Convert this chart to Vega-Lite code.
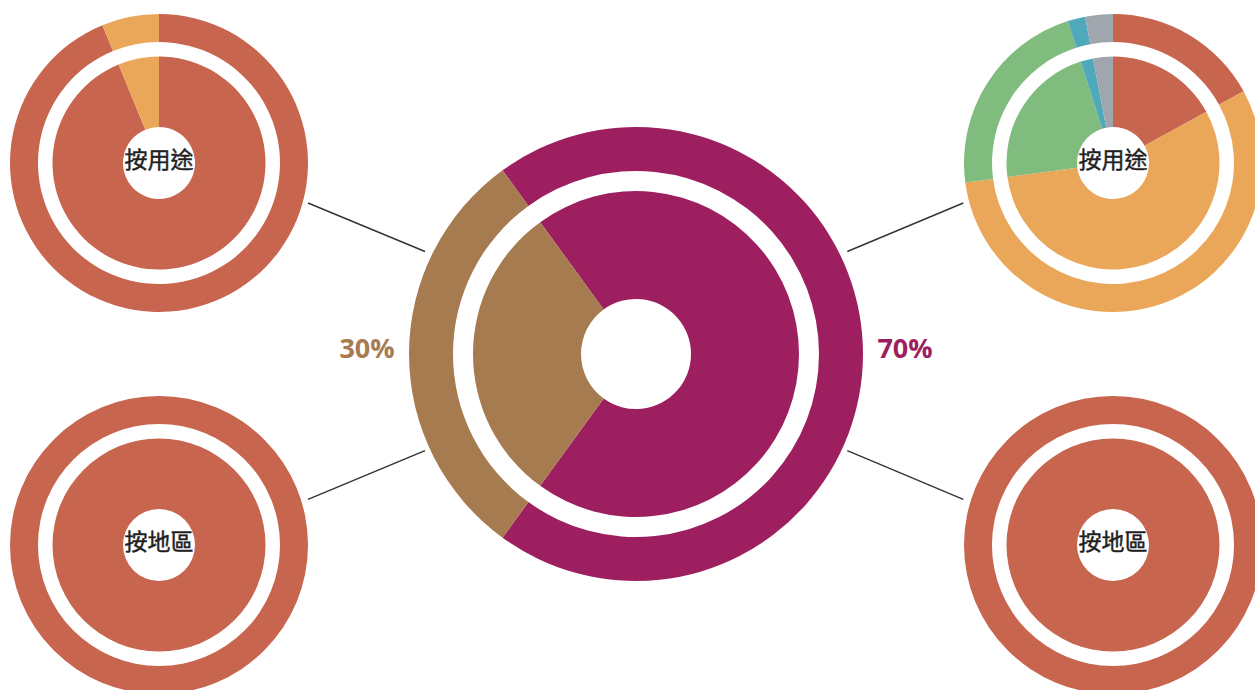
{
  "$schema": "https://vega.github.io/schema/vega-lite/v6.json",
  "width": 1255,
  "height": 690,
  "padding": 0,
  "autosize": {"type": "none"},
  "background": "white",
  "config": {"view": {"stroke": null}},
  "datasets": {
    "shares": [
      {"branch": "總體", "dim": "全部", "cat": "70%部分", "value": 0.7},
      {"branch": "總體", "dim": "全部", "cat": "30%部分", "value": 0.3},
      {"branch": "30%部分", "dim": "按用途", "cat": "用途甲", "value": 0.938},
      {"branch": "30%部分", "dim": "按用途", "cat": "用途乙", "value": 0.062},
      {"branch": "30%部分", "dim": "按地區", "cat": "地區甲", "value": 1.0},
      {"branch": "70%部分", "dim": "按用途", "cat": "用途甲", "value": 0.170},
      {"branch": "70%部分", "dim": "按用途", "cat": "用途乙", "value": 0.559},
      {"branch": "70%部分", "dim": "按用途", "cat": "用途丙", "value": 0.222},
      {"branch": "70%部分", "dim": "按用途", "cat": "用途丁", "value": 0.019},
      {"branch": "70%部分", "dim": "按用途", "cat": "用途戊", "value": 0.030},
      {"branch": "70%部分", "dim": "按地區", "cat": "地區甲", "value": 1.0}
    ],
    "links": [
      {"branch": "30%部分", "dim": "按用途", "to_branch": "總體", "to_dim": "全部"},
      {"branch": "30%部分", "dim": "按地區", "to_branch": "總體", "to_dim": "全部"},
      {"branch": "70%部分", "dim": "按用途", "to_branch": "總體", "to_dim": "全部"},
      {"branch": "70%部分", "dim": "按地區", "to_branch": "總體", "to_dim": "全部"}
    ]
  },
  "resolve": {"scale": {"theta": "independent"}},
  "layer": [
    {
      "data": {"name": "links"},
      "transform": [{"filter": "datum.branch === '30%部分' && datum.dim === '按用途'"}],
      "mark": {"type": "rule", "stroke": "#333333", "strokeWidth": 1.4, "xOffset": 149, "yOffset": 40, "x2Offset": -211, "y2Offset": -102.5},
      "encoding": {
        "x": {"field": "branch", "type": "nominal", "scale": {"type": "point", "domain": ["30%部分", "總體", "70%部分"], "range": [159, 1113], "padding": 0}, "axis": null},
        "x2": {"field": "to_branch"},
        "y": {"field": "dim", "type": "nominal", "scale": {"type": "point", "domain": ["按用途", "全部", "按地區"], "range": [163, 545], "padding": 0}, "axis": null},
        "y2": {"field": "to_dim"}
      }
    },
    {
      "data": {"name": "links"},
      "transform": [{"filter": "datum.branch === '30%部分' && datum.dim === '按地區'"}],
      "mark": {"type": "rule", "stroke": "#333333", "strokeWidth": 1.4, "xOffset": 149, "yOffset": -45.7, "x2Offset": -211, "y2Offset": 96.7},
      "encoding": {
        "x": {"field": "branch", "type": "nominal", "axis": null},
        "x2": {"field": "to_branch"},
        "y": {"field": "dim", "type": "nominal", "axis": null},
        "y2": {"field": "to_dim"}
      }
    },
    {
      "data": {"name": "links"},
      "transform": [{"filter": "datum.branch === '70%部分' && datum.dim === '按用途'"}],
      "mark": {"type": "rule", "stroke": "#333333", "strokeWidth": 1.4, "xOffset": -149.7, "yOffset": 40, "x2Offset": 211.3, "y2Offset": -102.5},
      "encoding": {
        "x": {"field": "branch", "type": "nominal", "axis": null},
        "x2": {"field": "to_branch"},
        "y": {"field": "dim", "type": "nominal", "axis": null},
        "y2": {"field": "to_dim"}
      }
    },
    {
      "data": {"name": "links"},
      "transform": [{"filter": "datum.branch === '70%部分' && datum.dim === '按地區'"}],
      "mark": {"type": "rule", "stroke": "#333333", "strokeWidth": 1.4, "xOffset": -149.7, "yOffset": -45.7, "x2Offset": 211.3, "y2Offset": 96.7},
      "encoding": {
        "x": {"field": "branch", "type": "nominal", "axis": null},
        "x2": {"field": "to_branch"},
        "y": {"field": "dim", "type": "nominal", "axis": null},
        "y2": {"field": "to_dim"}
      }
    },
    {
      "data": {"name": "shares"},
      "transform": [
        {"filter": "datum.branch === '總體'"},
        {"stack": "value", "groupby": ["branch", "dim"], "as": ["v0", "v1"]}
      ],
      "mark": {"type": "arc", "radius": 227, "radius2": 183},
      "encoding": {
        "x": {"field": "branch", "type": "nominal", "axis": null},
        "y": {"field": "dim", "type": "nominal", "axis": null},
        "theta": {"field": "v0", "type": "quantitative", "stack": null, "scale": {"domain": [0, 1], "range": [-0.6283, 5.6549]}},
        "theta2": {"field": "v1"},
        "color": {"field": "cat", "type": "nominal", "legend": null,
          "scale": {"domain": ["70%部分", "30%部分", "用途甲", "用途乙", "用途丙", "用途丁", "用途戊", "地區甲"],
                    "range": ["#9E1F60", "#A67B50", "#C8654E", "#EAA75A", "#7FBC7E", "#4FA9BA", "#9FA6AD", "#C8654E"]}}
      }
    },
    {
      "data": {"name": "shares"},
      "transform": [
        {"filter": "datum.branch === '總體'"},
        {"stack": "value", "groupby": ["branch", "dim"], "as": ["v0", "v1"]}
      ],
      "mark": {"type": "arc", "radius": 163, "radius2": 55},
      "encoding": {
        "x": {"field": "branch", "type": "nominal", "axis": null},
        "y": {"field": "dim", "type": "nominal", "axis": null},
        "theta": {"field": "v0", "type": "quantitative", "stack": null, "scale": {"domain": [0, 1], "range": [-0.6283, 5.6549]}},
        "theta2": {"field": "v1"},
        "color": {"field": "cat", "type": "nominal", "legend": null}
      }
    },
    {
      "data": {"name": "shares"},
      "transform": [
        {"filter": "datum.branch !== '總體'"},
        {"stack": "value", "groupby": ["branch", "dim"], "as": ["v0", "v1"]}
      ],
      "mark": {"type": "arc", "radius": 149, "radius2": 121},
      "encoding": {
        "x": {"field": "branch", "type": "nominal", "axis": null},
        "y": {"field": "dim", "type": "nominal", "axis": null},
        "theta": {"field": "v0", "type": "quantitative", "stack": null, "scale": {"domain": [0, 1], "range": [0, 6.28319]}},
        "theta2": {"field": "v1"},
        "color": {"field": "cat", "type": "nominal", "legend": null}
      }
    },
    {
      "data": {"name": "shares"},
      "transform": [
        {"filter": "datum.branch !== '總體'"},
        {"stack": "value", "groupby": ["branch", "dim"], "as": ["v0", "v1"]}
      ],
      "mark": {"type": "arc", "radius": 106.5, "radius2": 36},
      "encoding": {
        "x": {"field": "branch", "type": "nominal", "axis": null},
        "y": {"field": "dim", "type": "nominal", "axis": null},
        "theta": {"field": "v0", "type": "quantitative", "stack": null, "scale": {"domain": [0, 1], "range": [0, 6.28319]}},
        "theta2": {"field": "v1"},
        "color": {"field": "cat", "type": "nominal", "legend": null}
      }
    },
    {
      "data": {"name": "shares"},
      "transform": [
        {"filter": "datum.branch !== '總體'"},
        {"aggregate": [{"op": "sum", "field": "value", "as": "total"}], "groupby": ["branch", "dim"]}
      ],
      "mark": {"type": "text", "font": "Noto Sans CJK TC", "fontSize": 23, "fontWeight": "normal", "color": "#1f1f1f", "stroke": "#1f1f1f", "strokeWidth": 0.45, "align": "center", "baseline": "middle", "dy": -2.5},
      "encoding": {
        "x": {"field": "branch", "type": "nominal", "axis": null},
        "y": {"field": "dim", "type": "nominal", "axis": null},
        "text": {"field": "dim"}
      }
    },
    {
      "data": {"name": "shares"},
      "transform": [{"filter": "datum.branch === '總體'"}],
      "mark": {"type": "text", "radius": 269, "font": "Open Sans", "fontSize": 27, "fontWeight": "bold", "align": "center", "baseline": "middle", "dy": -4},
      "encoding": {
        "x": {"field": "branch", "type": "nominal", "axis": null},
        "y": {"field": "dim", "type": "nominal", "axis": null},
        "theta": {"field": "value", "type": "quantitative", "stack": true, "scale": {"domain": [0, 1], "range": [-0.6283, 5.6549]}},
        "order": {"field": "value", "sort": "descending"},
        "text": {"field": "value", "type": "quantitative", "format": ".0%"},
        "color": {"field": "cat", "type": "nominal", "legend": null}
      }
    }
  ]
}
